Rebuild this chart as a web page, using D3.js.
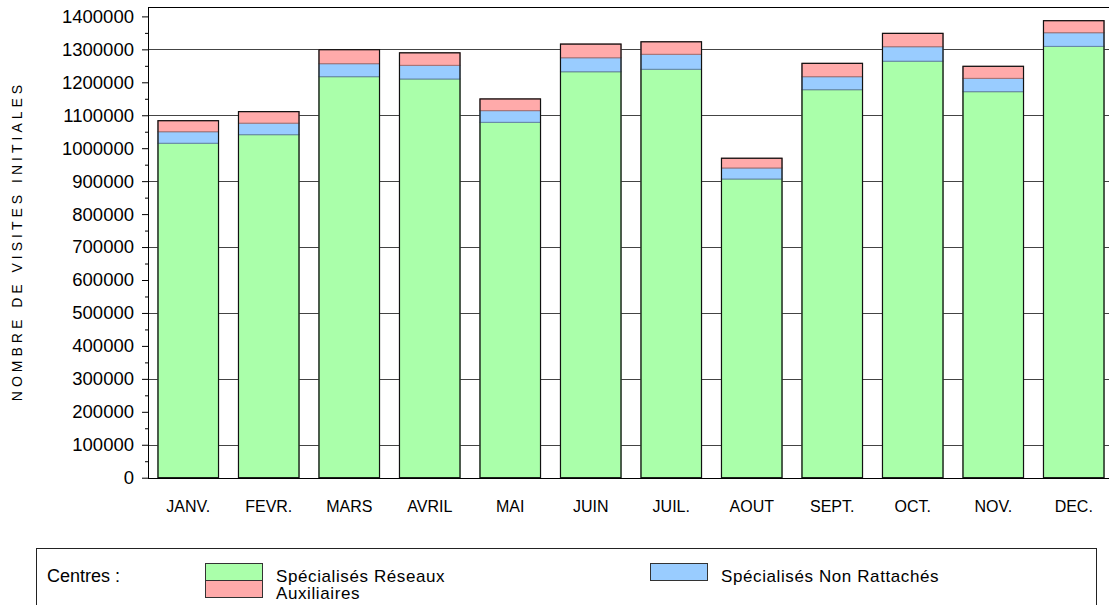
<!DOCTYPE html>
<html><head><meta charset="utf-8">
<script src="https://cdn.jsdelivr.net/npm/d3@7"></script>
<style>
body{margin:0;background:#fff;}
text{font-family:"Liberation Sans",Arial,sans-serif;fill:#000;}
</style></head>
<body><svg id="c" width="1109" height="605"></svg>
<script>
const months = ["JANV.","FEVR.","MARS","AVRIL","MAI","JUIN","JUIL.","AOUT","SEPT.","OCT.","NOV.","DEC."];
const reseaux = [1015000,1041000,1217000,1210000,1078500,1232000,1239500,906500,1177500,1264000,1171500,1309000];
const nonRattaches = [35000,35000,39500,41500,35500,42500,45500,33500,39500,44000,40500,41500];
const auxiliaires = [33500,35000,42500,38000,35500,41500,38000,29500,40500,40500,36500,36500];
const seriesNames = ["Spécialisés Réseaux","Spécialisés Non Rattachés","Auxiliaires"];
const seriesColors = ["#aaffaa","#99ccff","#ffaaaa"];
const yMajorTicks = d3.range(0,1400001,100000);
const yMinorTicks = d3.range(50000,1400000,100000);
const gridValues = d3.range(100000,1400000,200000);
const yTitle = "NOMBRE DE VISITES INITIALES";
const legendTitle = "Centres :";

(function(){
const svg = d3.select("#c");
const mLeft = 148, mBottom = 477.7, mTop = 7;
const y = d3.scaleLinear().domain([0,1400000]).range([mBottom, 16.4]);
const x = d3.scaleBand().domain(months).range([mLeft, mLeft + 12*80.5]).paddingInner(0.248).paddingOuter(0.124);

// gridlines
svg.append("g").selectAll("line").data(gridValues).join("line")
  .attr("x1", mLeft).attr("x2", 1109)
  .attr("y1", d=>Math.round(y(d))+0.5).attr("y2", d=>Math.round(y(d))+0.5)
  .attr("stroke","#444").attr("stroke-width",1);
// top frame
svg.append("line").attr("x1",mLeft).attr("x2",1109).attr("y1",mTop+0.5).attr("y2",mTop+0.5).attr("stroke","#000");

// bars
const stackData = months.map((m,i)=>({m, a:reseaux[i], b:nonRattaches[i], c:auxiliaires[i]}));
const stack = d3.stack().keys(["a","b","c"])(stackData);
const gBars = svg.append("g");
stack.forEach((layer,li)=>{
  gBars.append("g").selectAll("rect").data(layer).join("rect")
    .attr("x", d=>x(d.data.m)).attr("width", x.bandwidth())
    .attr("y", d=>y(d[1])).attr("height", d=>y(d[0])-y(d[1]))
    .attr("fill", seriesColors[li])
    .attr("stroke", d3.color(seriesColors[li]).darker(1.2)).attr("stroke-width",1);
});
gBars.append("g").selectAll("rect").data(stackData).join("rect")
  .attr("x", d=>x(d.m)).attr("width", x.bandwidth())
  .attr("y", d=>y(d.a+d.b+d.c)).attr("height", d=>y(0)-y(d.a+d.b+d.c))
  .attr("fill","none").attr("stroke","#111").attr("stroke-width",1.2);

// y axis
const yAxis = svg.append("g").attr("transform",`translate(${mLeft},0)`)
  .call(d3.axisLeft(y).tickValues(yMajorTicks).tickSize(6).tickPadding(8).tickFormat(d3.format("d")));
yAxis.select(".domain").remove();
yAxis.selectAll("text").style("font-size","18.5px");
yAxis.selectAll("line").attr("stroke","#000");
const yMinor = svg.append("g").attr("transform",`translate(${mLeft},0)`)
  .call(d3.axisLeft(y).tickValues(yMinorTicks).tickSize(3).tickFormat(""));
yMinor.select(".domain").remove();
svg.append("line").attr("x1",mLeft+0.5).attr("x2",mLeft+0.5).attr("y1",mTop).attr("y2",mBottom+0.5).attr("stroke","#000");
svg.append("line").attr("x1",mLeft).attr("x2",1109).attr("y1",Math.round(mBottom)+0.5).attr("y2",Math.round(mBottom)+0.5).attr("stroke","#000");

// x labels
svg.append("g").selectAll("text").data(months).join("text")
  .attr("x", d=>x(d)+x.bandwidth()/2).attr("y", 512)
  .attr("text-anchor","middle").style("font-size","16px").text(d=>d);

// y title
svg.append("text").attr("transform","translate(22,241) rotate(-90)")
  .attr("text-anchor","middle").style("font-size","14px").style("letter-spacing","4px").text(yTitle);

// legend
const lg = svg.append("g");
lg.append("rect").attr("x",36.5).attr("y",548.5).attr("width",1060).attr("height",80).attr("fill","none").attr("stroke","#222");
lg.append("text").attr("x",47).attr("y",582).style("font-size","18px").text(legendTitle);
const legendItems = [
  {name:seriesNames[0], color:seriesColors[0], x:205, y:563, ty:581.5},
  {name:seriesNames[2], color:seriesColors[2], x:205, y:580, ty:598.5},
  {name:seriesNames[1], color:seriesColors[1], x:650, y:563, ty:581.5}
];
legendItems.forEach(it=>{
  lg.append("rect").attr("x",it.x+0.5).attr("y",it.y+0.5).attr("width",57).attr("height",17)
    .attr("fill",it.color).attr("stroke","#333");
  lg.append("text").attr("x",it.x+71).attr("y",it.ty).style("font-size","17px").style("letter-spacing","0.6px").text(it.name);
});
})();
</script></body></html>
